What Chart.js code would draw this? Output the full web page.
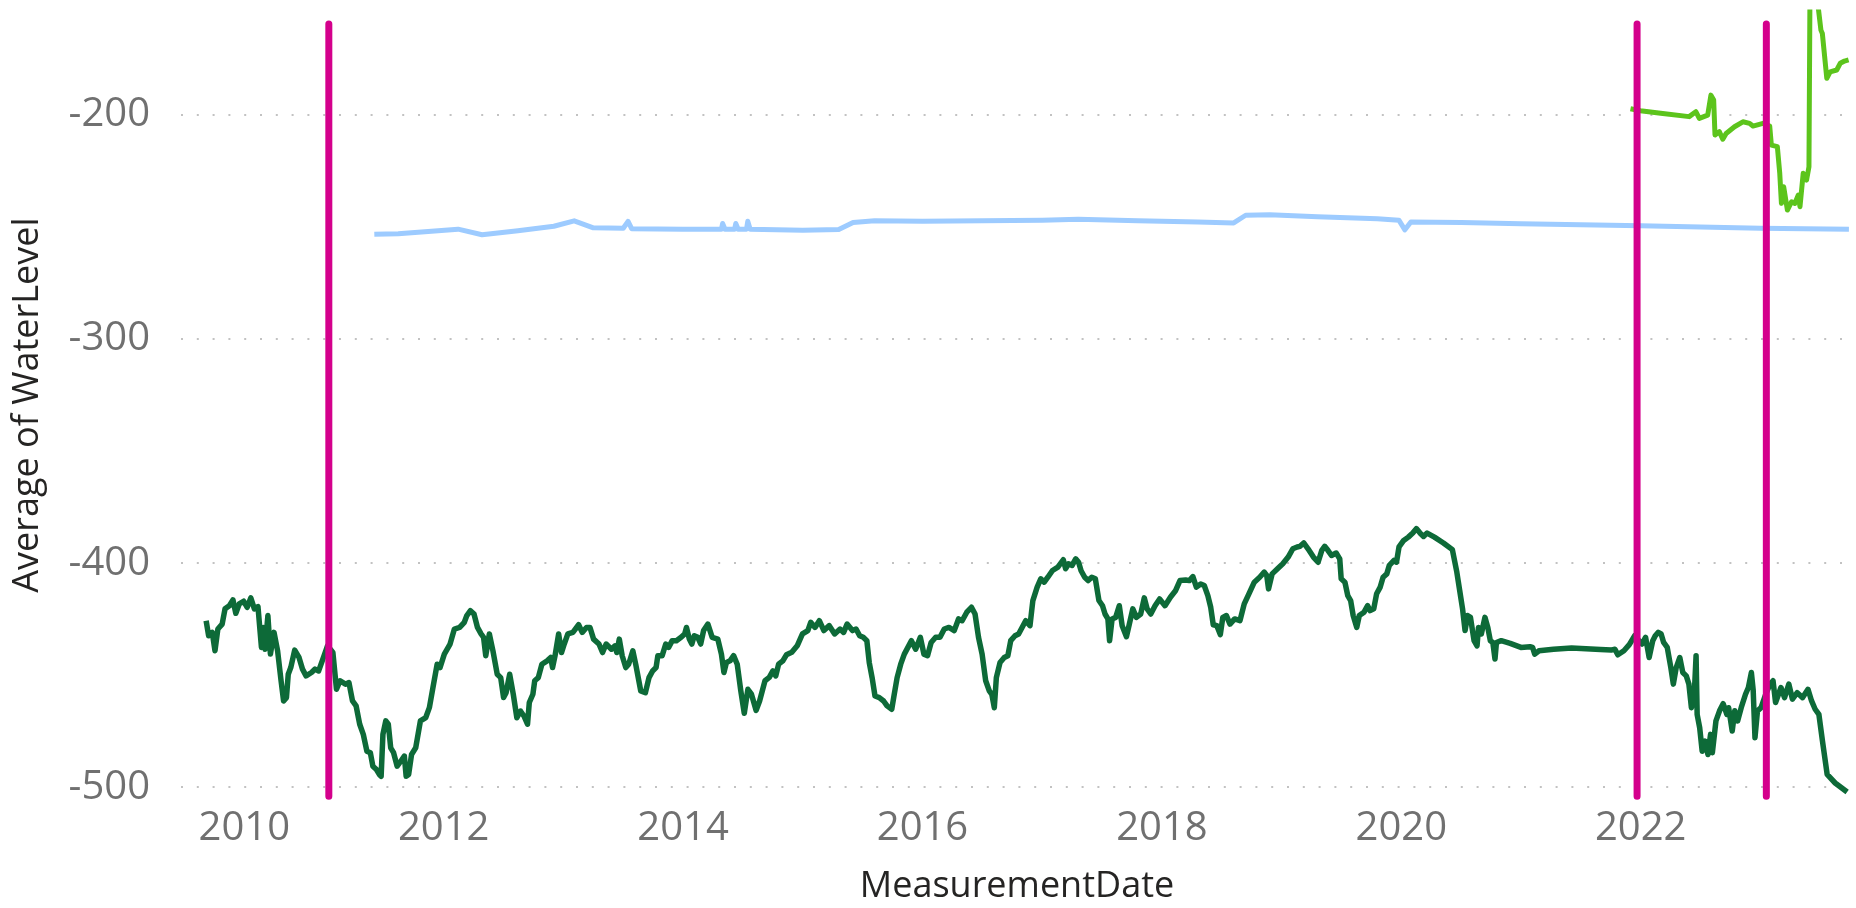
<!DOCTYPE html>
<html>
<head>
<meta charset="utf-8">
<script src="https://cdn.jsdelivr.net/npm/chart.js@4.4.1/dist/chart.umd.min.js"></script>
<style>
html,body{margin:0;padding:0;background:#ffffff;}
canvas{display:block;}
</style>
</head>
<body>
<canvas id="chart" width="1856" height="908"></canvas>
<script>
// ---- Data (MeasurementDate as decimal year, Average of WaterLevel) ----
const xTickYears = [2010, 2012, 2014, 2016, 2018, 2020, 2022];
const yTickValues = [-500, -400, -300, -200];

const darkYears = [
2010.015,2010.036,2010.066,2010.089,2010.113,2010.149,2010.173,2010.209,2010.239,2010.263,
2010.292,2010.328,2010.358,2010.388,2010.418,2010.448,2010.477,2010.492,2010.507,2010.531,
2010.552,2010.582,2010.612,2010.641,2010.662,2010.686,2010.701,2010.722,2010.755,2010.791,
2010.820,2010.850,2010.895,2010.925,2010.955,2010.985,2011.029,2011.074,2011.104,2011.134,
2011.179,2011.208,2011.238,2011.268,2011.298,2011.328,2011.358,2011.387,2011.408,2011.438,
2011.462,2011.477,2011.492,2011.516,2011.537,2011.557,2011.581,2011.611,2011.641,2011.671,
2011.686,2011.707,2011.731,2011.766,2011.805,2011.850,2011.880,2011.910,2011.945,2011.969,
2012.005,2012.053,2012.089,2012.133,2012.172,2012.193,2012.223,2012.253,2012.282,2012.312,
2012.333,2012.351,2012.381,2012.411,2012.447,2012.476,2012.500,2012.521,2012.551,2012.581,
2012.611,2012.641,2012.670,2012.700,2012.715,2012.745,2012.760,2012.790,2012.820,2012.864,
2012.894,2012.909,2012.930,2012.960,2012.984,2013.007,2013.037,2013.079,2013.127,2013.157,
2013.193,2013.222,2013.252,2013.297,2013.327,2013.357,2013.401,2013.431,2013.446,2013.467,
2013.491,2013.521,2013.545,2013.580,2013.604,2013.646,2013.685,2013.715,2013.745,2013.774,
2013.789,2013.825,2013.855,2013.879,2013.909,2013.944,2013.983,2014.013,2014.028,2014.052,
2014.073,2014.093,2014.123,2014.147,2014.171,2014.207,2014.243,2014.290,2014.320,2014.341,
2014.362,2014.392,2014.422,2014.452,2014.482,2014.511,
2014.541,2014.571,2014.610,2014.639,2014.684,2014.720,2014.750,2014.774,2014.798,2014.833,
2014.863,2014.908,2014.953,2014.997,2015.042,2015.066,2015.102,2015.138,2015.176,2015.221,
2015.266,2015.311,2015.341,2015.370,2015.415,2015.445,2015.475,2015.505,2015.535,2015.555,
2015.579,2015.603,2015.639,2015.675,2015.704,2015.743,2015.764,2015.788,2015.818,2015.848,
2015.878,2015.907,2015.943,2015.982,2016.012,2016.042,2016.072,2016.110,2016.146,2016.182,
2016.221,2016.265,2016.301,2016.331,2016.370,2016.409,2016.439,2016.468,2016.498,2016.528,
2016.558,2016.579,2016.600,2016.617,2016.648,2016.683,2016.713,2016.737,2016.773,2016.803,
2016.832,2016.862,2016.898,2016.922,2016.958,2016.988,2017.017,2017.047,2017.086,2017.131,
2017.176,2017.196,2017.220,2017.250,2017.280,2017.304,2017.325,2017.355,2017.384,2017.414,
2017.444,2017.474,2017.504,2017.525,2017.549,2017.563,2017.584,2017.614,2017.644,2017.668,
2017.704,2017.728,2017.757,2017.787,2017.823,2017.853,2017.877,2017.907,2017.943,2017.981,
2018.026,2018.071,2018.115,2018.151,2018.199,2018.229,2018.259,2018.288,2018.324,2018.354,
2018.384,2018.408,2018.429,2018.459,2018.488,2018.509,2018.539,2018.569,2018.608,2018.652,
2018.688,2018.727,2018.772,2018.817,2018.855,2018.876,2018.891,2018.921,2018.966,2019.010,
2019.055,2019.094,2019.130,2019.154,
2019.185,2019.221,2019.266,2019.305,2019.336,2019.360,2019.387,2019.417,2019.456,2019.486,
2019.498,2019.529,2019.553,2019.577,2019.598,2019.628,2019.649,2019.689,2019.719,2019.740,
2019.770,2019.794,2019.824,2019.848,2019.879,2019.900,2019.939,2019.960,2019.981,2020.020,
2020.059,2020.096,2020.126,2020.162,2020.186,2020.216,2020.277,2020.352,2020.427,2020.464,
2020.488,2020.512,2020.533,2020.554,2020.578,2020.608,2020.633,2020.645,2020.669,2020.699,
2020.723,2020.744,2020.765,2020.783,2020.795,2020.835,2020.910,2021.000,2021.076,2021.097,
2021.115,2021.151,2021.272,2021.423,2021.543,2021.664,2021.754,2021.785,2021.809,2021.860,
2021.905,2021.950,2021.981,2022.011,2022.041,2022.071,2022.101,2022.122,2022.147,2022.171,
2022.192,2022.222,2022.252,2022.273,2022.297,2022.327,2022.352,2022.381,2022.403,2022.424,
2022.448,2022.463,2022.472,2022.493,2022.514,2022.538,2022.562,2022.584,2022.599,2022.629,
2022.659,2022.689,2022.720,2022.735,2022.765,2022.786,2022.810,2022.840,2022.876,2022.900,
2022.925,2022.940,2022.955,2022.976,2023.006,2023.045,2023.081,2023.106,2023.127,2023.172,
2023.202,2023.238,2023.268,2023.308,2023.353,2023.398,2023.428,2023.458,2023.489,2023.519,
2023.558,2023.625,2023.725
];
const darkLevels = [
-425.7,-432.4,-430.9,-439.1,-429.4,-427.2,-420.4,-419.0,-416.4,-422.4,
-418.2,-417.0,-419.7,-415.5,-420.4,-419.4,-437.6,-428.7,-438.4,-423.4,
-440.6,-430.9,-439.1,-452.5,-461.5,-460.0,-449.6,-446.6,-438.8,-442.1,
-447.3,-450.3,-448.8,-447.3,-448.1,-443.6,-436.9,-439.9,-456.3,-452.5,
-454.0,-453.3,-461.5,-463.7,-471.9,-476.4,-483.9,-484.6,-490.6,-492.1,
-494.3,-495.1,-476.4,-470.4,-471.9,-482.4,-484.6,-490.6,-488.4,-486.1,
-495.1,-494.3,-485.4,-482.4,-470.4,-468.9,-464.5,-455.5,-445.1,-446.6,
-440.6,-436.1,-429.4,-428.7,-426.4,-423.4,-421.2,-422.7,-428.7,-431.6,
-433.1,-441.3,-431.6,-439.1,-449.6,-451.1,-460.0,-457.8,-449.6,-458.5,
-469.0,-466.0,-468.2,-471.9,-462.2,-458.5,-452.5,-451.1,-445.1,-443.6,
-442.1,-446.6,-441.3,-431.6,-439.9,-436.1,-431.6,-430.9,-427.5,-430.9,
-428.7,-428.7,-433.9,-436.1,-439.9,-436.1,-438.4,-436.9,-439.9,-433.9,
-441.3,-446.6,-445.1,-439.1,-445.1,-457.0,-457.8,-451.1,-448.1,-446.6,
-441.3,-441.3,-436.1,-437.6,-434.6,-434.6,-433.1,-431.6,-428.7,-433.9,
-436.1,-432.4,-433.1,-436.1,-430.1,-427.2,-433.1,-433.9,-440.6,-448.8,
-444.3,-443.6,-441.3,-445.1,-457.0,-467.0,
-456.3,-458.5,-465.7,-461.5,-452.5,-451.0,-448.1,-450.3,-445.1,-443.6,
-440.9,-439.8,-436.9,-431.6,-430.1,-426.4,-428.7,-425.7,-430.1,-427.9,
-431.6,-429.4,-430.9,-427.2,-430.1,-429.4,-432.4,-433.1,-434.6,-444.3,
-451.1,-459.3,-460.0,-461.5,-463.7,-465.2,-458.5,-451.1,-445.1,-440.6,
-437.6,-434.6,-438.4,-433.1,-440.6,-441.3,-435.4,-433.1,-433.1,-429.4,
-428.7,-430.1,-424.9,-425.7,-421.9,-419.7,-422.7,-433.1,-440.6,-452.5,
-457.0,-458.5,-464.5,-451.1,-444.3,-442.1,-441.3,-434.6,-432.4,-431.6,
-428.7,-425.7,-427.9,-416.7,-410.7,-407.0,-408.5,-406.3,-403.3,-401.8,
-398.5,-402.5,-400.3,-401.0,-398.1,-399.6,-403.4,-406.3,-407.8,-406.3,
-407.0,-416.7,-419.0,-422.7,-424.9,-434.6,-424.9,-424.2,-419.0,-427.9,
-432.8,-427.2,-420.4,-424.2,-422.7,-415.5,-420.4,-422.7,-419.0,-416.0,
-419.0,-415.2,-412.2,-407.8,-407.5,-407.8,-406.0,-410.7,-409.3,-410.0,
-414.5,-419.7,-427.5,-427.9,-431.9,-424.2,-423.4,-427.2,-424.9,-425.7,
-418.2,-413.7,-408.5,-406.3,-404.0,-405.5,-411.5,-404.8,-402.5,-400.3,
-397.3,-393.6,-392.8,-392.5,
-391.0,-393.6,-397.3,-399.6,-394.3,-392.5,-394.3,-396.6,-395.5,-398.1,
-407.0,-408.5,-414.5,-416.7,-423.4,-428.7,-423.4,-421.9,-419.0,-421.2,
-420.4,-413.7,-410.7,-406.3,-404.8,-401.0,-398.8,-399.6,-392.8,-389.9,
-388.4,-386.6,-384.6,-386.9,-388.1,-386.6,-388.4,-391.0,-394.0,-404.0,
-412.2,-420.4,-430.1,-423.4,-424.2,-434.6,-436.9,-428.7,-431.6,-424.2,
-428.7,-434.6,-435.4,-442.8,-435.4,-434.6,-435.8,-437.6,-437.3,-437.6,
-440.6,-439.1,-438.4,-437.9,-438.2,-438.5,-438.8,-438.4,-440.9,-439.1,
-436.4,-432.4,-434.3,-436.1,-433.1,-442.1,-434.6,-432.4,-430.9,-431.6,
-435.4,-437.6,-446.6,-454.0,-446.6,-442.1,-448.8,-450.3,-454.0,-464.5,
-458.5,-441.3,-467.5,-473.4,-483.9,-479.4,-485.4,-476.4,-484.6,-470.4,
-465.9,-462.7,-467.5,-464.5,-474.9,-465.9,-470.4,-464.5,-458.5,-455.5,
-448.8,-456.6,-477.9,-465.9,-464.5,-458.5,-454.0,-452.5,-462.2,-455.5,
-460.0,-454.0,-460.7,-457.8,-460.0,-456.3,-461.5,-465.2,-467.5,-479.4,
-494.3,-498.1,-502.1
];

const blueYears = [
2011.42,2011.62,2012.12,2012.32,2012.62,2012.92,2013.09,2013.25,2013.50,2013.54,
2013.57,2014.00,2014.32,2014.33,2014.35,2014.43,2014.44,2014.46,2014.53,2014.54,
2014.56,2015.00,2015.30,2015.42,2015.60,2016.00,2016.50,2017.00,2017.30,2017.80,
2018.30,2018.60,2018.70,2018.90,2019.30,2019.80,2019.98,2020.03,2020.08,2020.50,
2021.00,2021.50,2022.00,2022.50,2023.00,2023.74
];
const blueLevels = [
-253.3,-253.0,-251.0,-253.5,-251.7,-249.7,-247.3,-250.4,-250.6,-247.5,
-250.8,-251.0,-251.0,-248.5,-251.0,-251.0,-248.5,-251.0,-251.0,-247.5,
-251.0,-251.5,-251.2,-248.0,-247.3,-247.5,-247.3,-247.0,-246.6,-247.3,
-247.8,-248.2,-244.8,-244.6,-245.5,-246.4,-247.0,-251.3,-247.8,-248.0,
-248.6,-249.0,-249.5,-250.0,-250.6,-251.0
];

const limeYears = [
2021.915,2021.998,2022.167,2022.405,2022.461,2022.490,2022.560,2022.587,2022.610,2022.621,
2022.657,2022.686,2022.714,2022.784,2022.854,2022.910,2022.938,2023.022,2023.078,2023.092,
2023.142,2023.162,2023.176,2023.195,2023.226,2023.260,2023.288,2023.317,2023.331,2023.358,
2023.386,2023.406,2023.414,2023.479,2023.506,2023.518,2023.555,2023.583,2023.638,2023.667,
2023.703,2023.737
];
const limeLevels = [
-197.3,-198.2,-199.3,-200.8,-198.6,-201.6,-200.1,-191.2,-193.4,-209.0,
-207.5,-210.9,-208.3,-205.3,-203.1,-203.8,-205.0,-203.8,-205.0,-213.5,
-214.2,-226.1,-239.5,-232.1,-242.5,-238.8,-239.5,-235.8,-241.0,-226.1,
-229.1,-223.2,-150.0,-150.0,-162.2,-163.7,-183.7,-180.8,-180.0,-177.0,
-176.0,-175.5
];

// vertical marker lines (date) spanning a level range
const markerYears = [2011.04, 2021.97, 2023.05];
const markerRange = [-159.5, -504.0];

// ---- Build chart ----
function toPoints(xs, ys) { return xs.map((x, i) => ({ x: x, y: ys[i] })); }

const markerDatasets = markerYears.map(yr => ({
  label: 'marker ' + yr,
  data: toPoints([yr, yr], markerRange),
  borderColor: '#D4008C',
  borderWidth: 7,
  borderCapStyle: 'butt',
  pointRadius: 0
}));

const datasets = markerDatasets.concat([
  { label: 'Well A', data: toPoints(darkYears, darkLevels), borderColor: '#0D6A38', borderWidth: 5.5, pointRadius: 0 },
  { label: 'Well B', data: toPoints(blueYears, blueLevels), borderColor: '#9DCBFF', borderWidth: 5, pointRadius: 0 },
  { label: 'Well C', data: toPoints(limeYears, limeLevels), borderColor: '#5CC41C', borderWidth: 5, pointRadius: 0 }
]);

const tickFont = { family: '"Open Sans", "Noto Sans", sans-serif', size: 40 };
const titleFont = { family: '"Open Sans", "Noto Sans", sans-serif', size: 36 };

new Chart(document.getElementById('chart'), {
  type: 'line',
  data: { datasets: datasets },
  options: {
    responsive: false,
    animation: false,
    devicePixelRatio: 1,
    layout: { padding: { left: 0, right: 3, top: 9.5, bottom: 0 } },
    plugins: { legend: { display: false }, tooltip: { enabled: false } },
    elements: {
      point: { radius: 0 },
      line: { tension: 0, borderJoinStyle: 'round', fill: false }
    },
    scales: {
      x: {
        type: 'linear',
        min: 2009.805,
        max: 2023.774,
        afterFit(scale) {
          scale.height = 107.3;
          scale.paddingLeft = 0; scale.paddingRight = 0;
          scale.paddingTop = 0; scale.paddingBottom = 0;
        },
        afterBuildTicks(scale) { scale.ticks = xTickYears.map(v => ({ value: v })); },
        grid: { display: false, drawTicks: false },
        border: { display: false },
        ticks: {
          autoSkip: false,
          maxRotation: 0,
          padding: 4,
          color: '#707070',
          font: tickFont,
          callback: (v) => (v === xTickYears[0] ? '\u2002\u2002\u2002\u2002' : '') + String(v)
        },
        title: {
          display: true,
          text: 'MeasurementDate',
          color: '#252423',
          font: titleFont,
          padding: { top: 0, bottom: 0 }
        }
      },
      y: {
        type: 'linear',
        min: -506,
        max: -153,
        afterFit(scale) {
          scale.width = 181;
          scale.paddingTop = 0; scale.paddingBottom = 0;
          scale.paddingLeft = 0; scale.paddingRight = 0;
        },
        afterBuildTicks(scale) { scale.ticks = yTickValues.map(v => ({ value: v })); },
        grid: { color: '#c2c2c2', lineWidth: 2, drawTicks: false },
        border: { display: false, dash: [2, 13.8] },
        ticks: {
          padding: 31,
          color: '#707070',
          font: tickFont,
          callback: (v) => String(v)
        },
        title: {
          display: true,
          text: 'Average of WaterLevel',
          color: '#252423',
          font: titleFont,
          padding: { top: 6.5, bottom: 0 }
        }
      }
    }
  }
});
</script>
</body>
</html>
